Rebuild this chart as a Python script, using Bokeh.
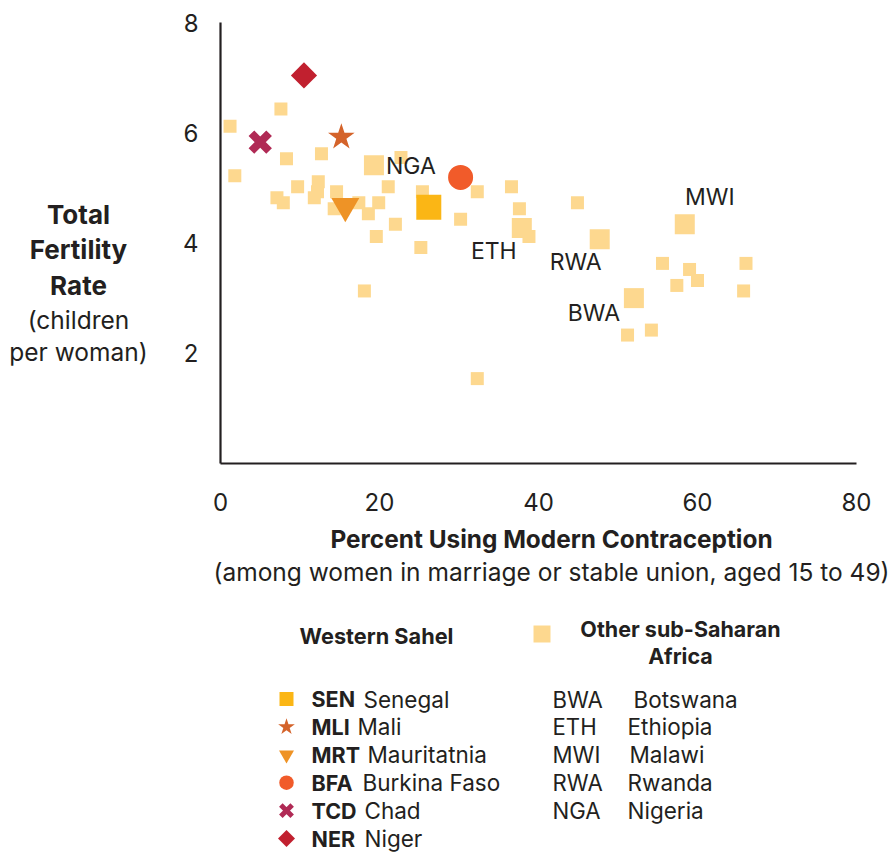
from bokeh.plotting import figure
from bokeh.models import Range1d, FixedTicker
from bokeh.embed import file_html
from bokeh.resources import INLINE
from bokeh.core.properties import value
import math

# ---------------- data ----------------
other_x = [1.2, 1.8, 7.6, 8.3, 7.1, 7.9, 9.7, 12.7, 12.3, 12.2, 11.8, 14.6, 14.3, 17.4,
           18.6, 19.9, 21.1, 22.0, 19.6, 22.7, 25.4, 25.2, 30.2, 32.3, 36.6, 37.6, 38.8,
           44.9, 55.6, 59.0, 60.0, 57.4, 66.1, 65.8, 54.2, 51.2, 32.3, 18.1]
other_y = [6.12, 5.22, 6.43, 5.53, 4.82, 4.73, 5.02, 5.62, 5.11, 4.93, 4.82, 4.93, 4.62, 4.73,
           4.53, 4.73, 5.02, 4.34, 4.12, 5.55, 4.93, 3.92, 4.43, 4.93, 5.02, 4.62, 4.12,
           4.73, 3.63, 3.52, 3.32, 3.23, 3.63, 3.13, 2.42, 2.33, 1.54, 3.13]

named_codes = ["NGA", "ETH", "RWA", "MWI", "BWA"]
named_x = [19.3, 37.9, 47.7, 58.4, 52.0]
named_y = [5.41, 4.27, 4.07, 4.34, 3.00]

legend_other_codes = ["BWA", "ETH", "MWI", "RWA", "NGA"]
legend_other_names = ["Botswana", "Ethiopia", "Malawi", "Rwanda", "Nigeria"]

sahel_codes = ["SEN", "MLI", "MRT", "BFA", "TCD", "NER"]
sahel_names = ["Senegal", "Mali", "Mauritatnia", "Burkina Faso", "Chad", "Niger"]
sahel_x = [26.2, 15.2, 15.7, 30.2, 5.0, 10.5]
sahel_y = [4.65, 5.92, 4.67, 5.19, 5.83, 7.04]

x_ticks = [0, 20, 40, 60, 80]
y_ticks = [2, 4, 6, 8]

# ---------------- styles / layout ----------------
FONT = "Inter"
TXT = "#231F20"
OTHER_COLOR = "#FDD88F"
sahel_colors = ["#FBB615", "#D4632A", "#EE9326", "#F15B2A", "#B02A55", "#C1202F"]
sahel_markers = ["square", "star", "inverted_triangle", "circle", "x", "square"]
sahel_sizes = [25, 28, 28, 25, 25, 18.5]
legend_sizes = [14, 17.5, 15, 14.5, 16, 12]
sahel_angles = [0, 0, 0, 0, 0, math.pi / 4]
label_dx = [37, -28, -24, 25, -40]
label_dy = [1, 23, 23, -27, 15]

W, H = 892, 852
# pixel geometry of the plotting area (axis origin and scale)
AX_LEFT, AX_BOTTOM = 220, 463
SX = (856 - 220) / 80.0
SY = (463 - 22) / 8.0


def DX(px):
    return (px - AX_LEFT) / SX


def DY(py):
    return (AX_BOTTOM - py) / SY


p = figure(width=W, height=H, output_backend="svg", toolbar_location=None,
           x_range=Range1d(DX(0), DX(W)), y_range=Range1d(DY(H), DY(0)),
           min_border=0, min_border_left=0, min_border_right=0,
           min_border_top=0, min_border_bottom=0, outline_line_color=None)
p.grid.visible = False
p.background_fill_color = "white"
p.border_fill_color = "white"

p.xaxis.fixed_location = 0
p.yaxis.fixed_location = 0
p.xaxis.bounds = (0, 80)
p.yaxis.bounds = (0, 8)
for ax in (p.xaxis[0], p.yaxis[0]):
    ax.axis_line_color = TXT
    ax.axis_line_width = 2.2
    ax.major_tick_line_color = None
    ax.minor_tick_line_color = None
    ax.major_label_text_font = FONT
    ax.major_label_text_font_size = "24px"
    ax.major_label_text_color = TXT
p.xaxis.ticker = FixedTicker(ticks=x_ticks)
p.yaxis.ticker = FixedTicker(ticks=y_ticks)
p.xaxis.major_label_standoff = 23
p.yaxis.major_label_standoff = 16

# other sub-Saharan countries
p.scatter(other_x, other_y, marker="square", size=13, fill_color=OTHER_COLOR,
          line_color=None)
p.scatter(named_x, named_y, marker="square", size=20, fill_color=OTHER_COLOR,
          line_color=None)
p.text(x=named_x, y=named_y, text=named_codes, x_offset=label_dx, y_offset=label_dy,
       text_font=value(FONT), text_font_size="23px", text_color=TXT,
       text_align="center", text_baseline="middle")

# Western Sahel
for i in range(len(sahel_codes)):
    if sahel_markers[i] == "x":
        p.scatter([sahel_x[i]], [sahel_y[i]], marker="x", size=sahel_sizes[i],
                  line_color=sahel_colors[i], line_width=8)
    else:
        p.scatter([sahel_x[i]], [sahel_y[i]], marker=sahel_markers[i], size=sahel_sizes[i],
                  angle=sahel_angles[i], fill_color=sahel_colors[i], line_color=None)


def txt(px, py, s, size="21px", style="normal", align="center"):
    p.text(x=[DX(px)], y=[DY(py)], text=[s], text_font=value(FONT),
           text_font_size=size, text_font_style=style, text_color=TXT,
           text_align=align, text_baseline="middle")


# y axis title
for s, py in [("Total", 214), ("Fertility", 249), ("Rate", 285)]:
    txt(78, py, s, "26px", "bold")
for s, py in [("(children", 319), ("per woman)", 351)]:
    txt(78, py, s, "24.5px")

# x axis title
txt(551, 538, "Percent Using Modern Contraception", "24.4px", "bold")
txt(551, 571, "(among women in marriage or stable union, aged 15 to 49)", "24.5px")

# ---------------- legend ----------------
txt(376, 635, "Western Sahel", "21.7px", "bold")
p.scatter(x=[DX(541.5)], y=[DY(633.5)], marker="square", size=17,
          fill_color=OTHER_COLOR, line_color=None)
txt(680, 628, "Other sub-Saharan", "21.5px", "bold")
txt(680, 655, "Africa", "21.5px", "bold")

row0, step = 698.5, 27.9
rows = [row0 + i * step for i in range(len(sahel_codes))]
name_left = [363, 357, 367, 362, 364, 364]
for i in range(len(sahel_codes)):
    if sahel_markers[i] == "x":
        p.scatter([DX(286)], [DY(rows[i])], marker="x", size=legend_sizes[i],
                  line_color=sahel_colors[i], line_width=5)
    else:
        p.scatter([DX(286)], [DY(rows[i])], marker=sahel_markers[i],
                  size=legend_sizes[i], angle=sahel_angles[i],
                  fill_color=sahel_colors[i], line_color=None)
    txt(311, rows[i], sahel_codes[i], "21.5px", "bold", "left")
    txt(name_left[i], rows[i], sahel_names[i], "22.5px", "normal", "left")

oname_left = [633, 627, 629, 627, 627]
for i in range(len(legend_other_codes)):
    txt(552, rows[i], legend_other_codes[i], "22.2px", "normal", "left")
    txt(oname_left[i], rows[i], legend_other_names[i], "22.5px", "normal", "left")

open("out.html", "w").write(file_html(p, INLINE))
